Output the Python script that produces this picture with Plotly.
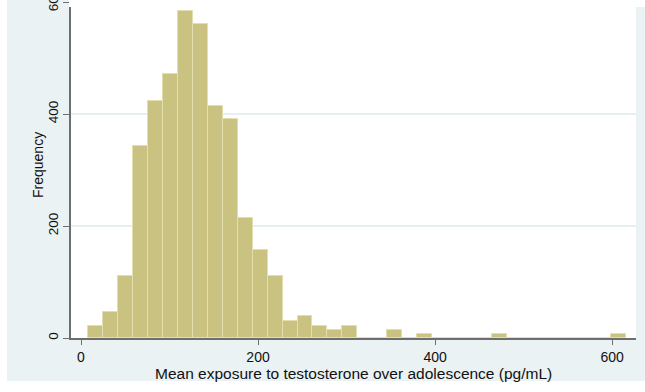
import plotly.graph_objects as go

# Histogram of mean testosterone exposure: 36 equal-width bins
bin_min = 8.3          # lower edge of the first bin (pg/mL)
bin_width = 16.88      # bin width (pg/mL)
counts = [22, 46, 111, 343, 424, 471, 584, 560, 415, 391,
          215, 158, 111, 30, 39, 22, 14, 22, 0, 0,
          14, 0, 7, 0, 0, 0, 0, 7, 0, 0,
          0, 0, 0, 0, 0, 7]

x_ticks = [0, 200, 400, 600]
y_ticks = [0, 200, 400, 600]

x_title = "Mean exposure to testosterone over adolescence (pg/mL)"
y_title = "Frequency"

centers = [bin_min + bin_width * (i + 0.5) for i in range(len(counts))]

BG = "#eaf2f3"
FONT = "Liberation Sans, Arial, sans-serif"

fig = go.Figure()
fig.add_trace(go.Bar(
    x=centers, y=counts, width=bin_width,
    marker=dict(color="#c9c281", line=dict(color="#e2deae", width=1)),
    hoverinfo="x+y",
))

# plot area spans pixel x 71..636, y 0..338
W, H = 645, 392
L, R, T, B = 71, 9, 0, 54
pw, ph = W - L - R, H - T - B


def px(xp):
    return (xp - L) / pw


def py(yp):
    return (H - B - yp) / ph


fig.update_layout(
    width=W, height=H,
    margin=dict(l=L, r=R, t=T, b=B, pad=0),
    paper_bgcolor=BG, plot_bgcolor="white",
    bargap=0, showlegend=False,
    font=dict(family=FONT, size=13, color="#111111"),
    xaxis=dict(
        range=[-11.3, 627], tickvals=x_ticks, ticks="outside", ticklen=5,
        tickcolor="#6e6e6e", showline=True, linecolor="#6e6e6e", linewidth=1.5,
        showgrid=False, zeroline=False, tickfont=dict(size=14), automargin=False,
    ),
    yaxis=dict(
        range=[0, 338 / 0.56], tickvals=y_ticks, ticks="outside", ticklen=6,
        tickcolor="#6e6e6e", showline=True, linecolor="#6e6e6e", linewidth=1.5,
        showgrid=True, gridcolor="#e6eff1", gridwidth=1.5, zeroline=False,
        tickangle=-90, tickfont=dict(size=13.5), ticklabeloverflow="allow",
        automargin=False,
    ),
    annotations=[
        dict(text=y_title, textangle=-90, xref="paper", yref="paper",
             x=px(38), y=py(165), showarrow=False, font=dict(size=14),
             xanchor="center", yanchor="middle"),
        dict(text=x_title, xref="paper", yref="paper",
             x=px(353), y=py(373.5), showarrow=False, font=dict(size=15.5),
             xanchor="center", yanchor="middle"),
    ],
    shapes=[
        # white image border on the left, top and bottom
        dict(type="rect", xref="paper", yref="paper", layer="above",
             x0=px(0), x1=px(7), y0=py(392), y1=py(0),
             fillcolor="white", line=dict(width=0)),
        dict(type="rect", xref="paper", yref="paper", layer="above",
             x0=px(0), x1=px(645), y0=py(392), y1=py(381),
             fillcolor="white", line=dict(width=0)),
        dict(type="rect", xref="paper", yref="paper", layer="above",
             x0=px(69), x1=px(645), y0=py(7), y1=py(0),
             fillcolor="white", line=dict(width=0)),
    ],
)

fig.write_html("out.html")
